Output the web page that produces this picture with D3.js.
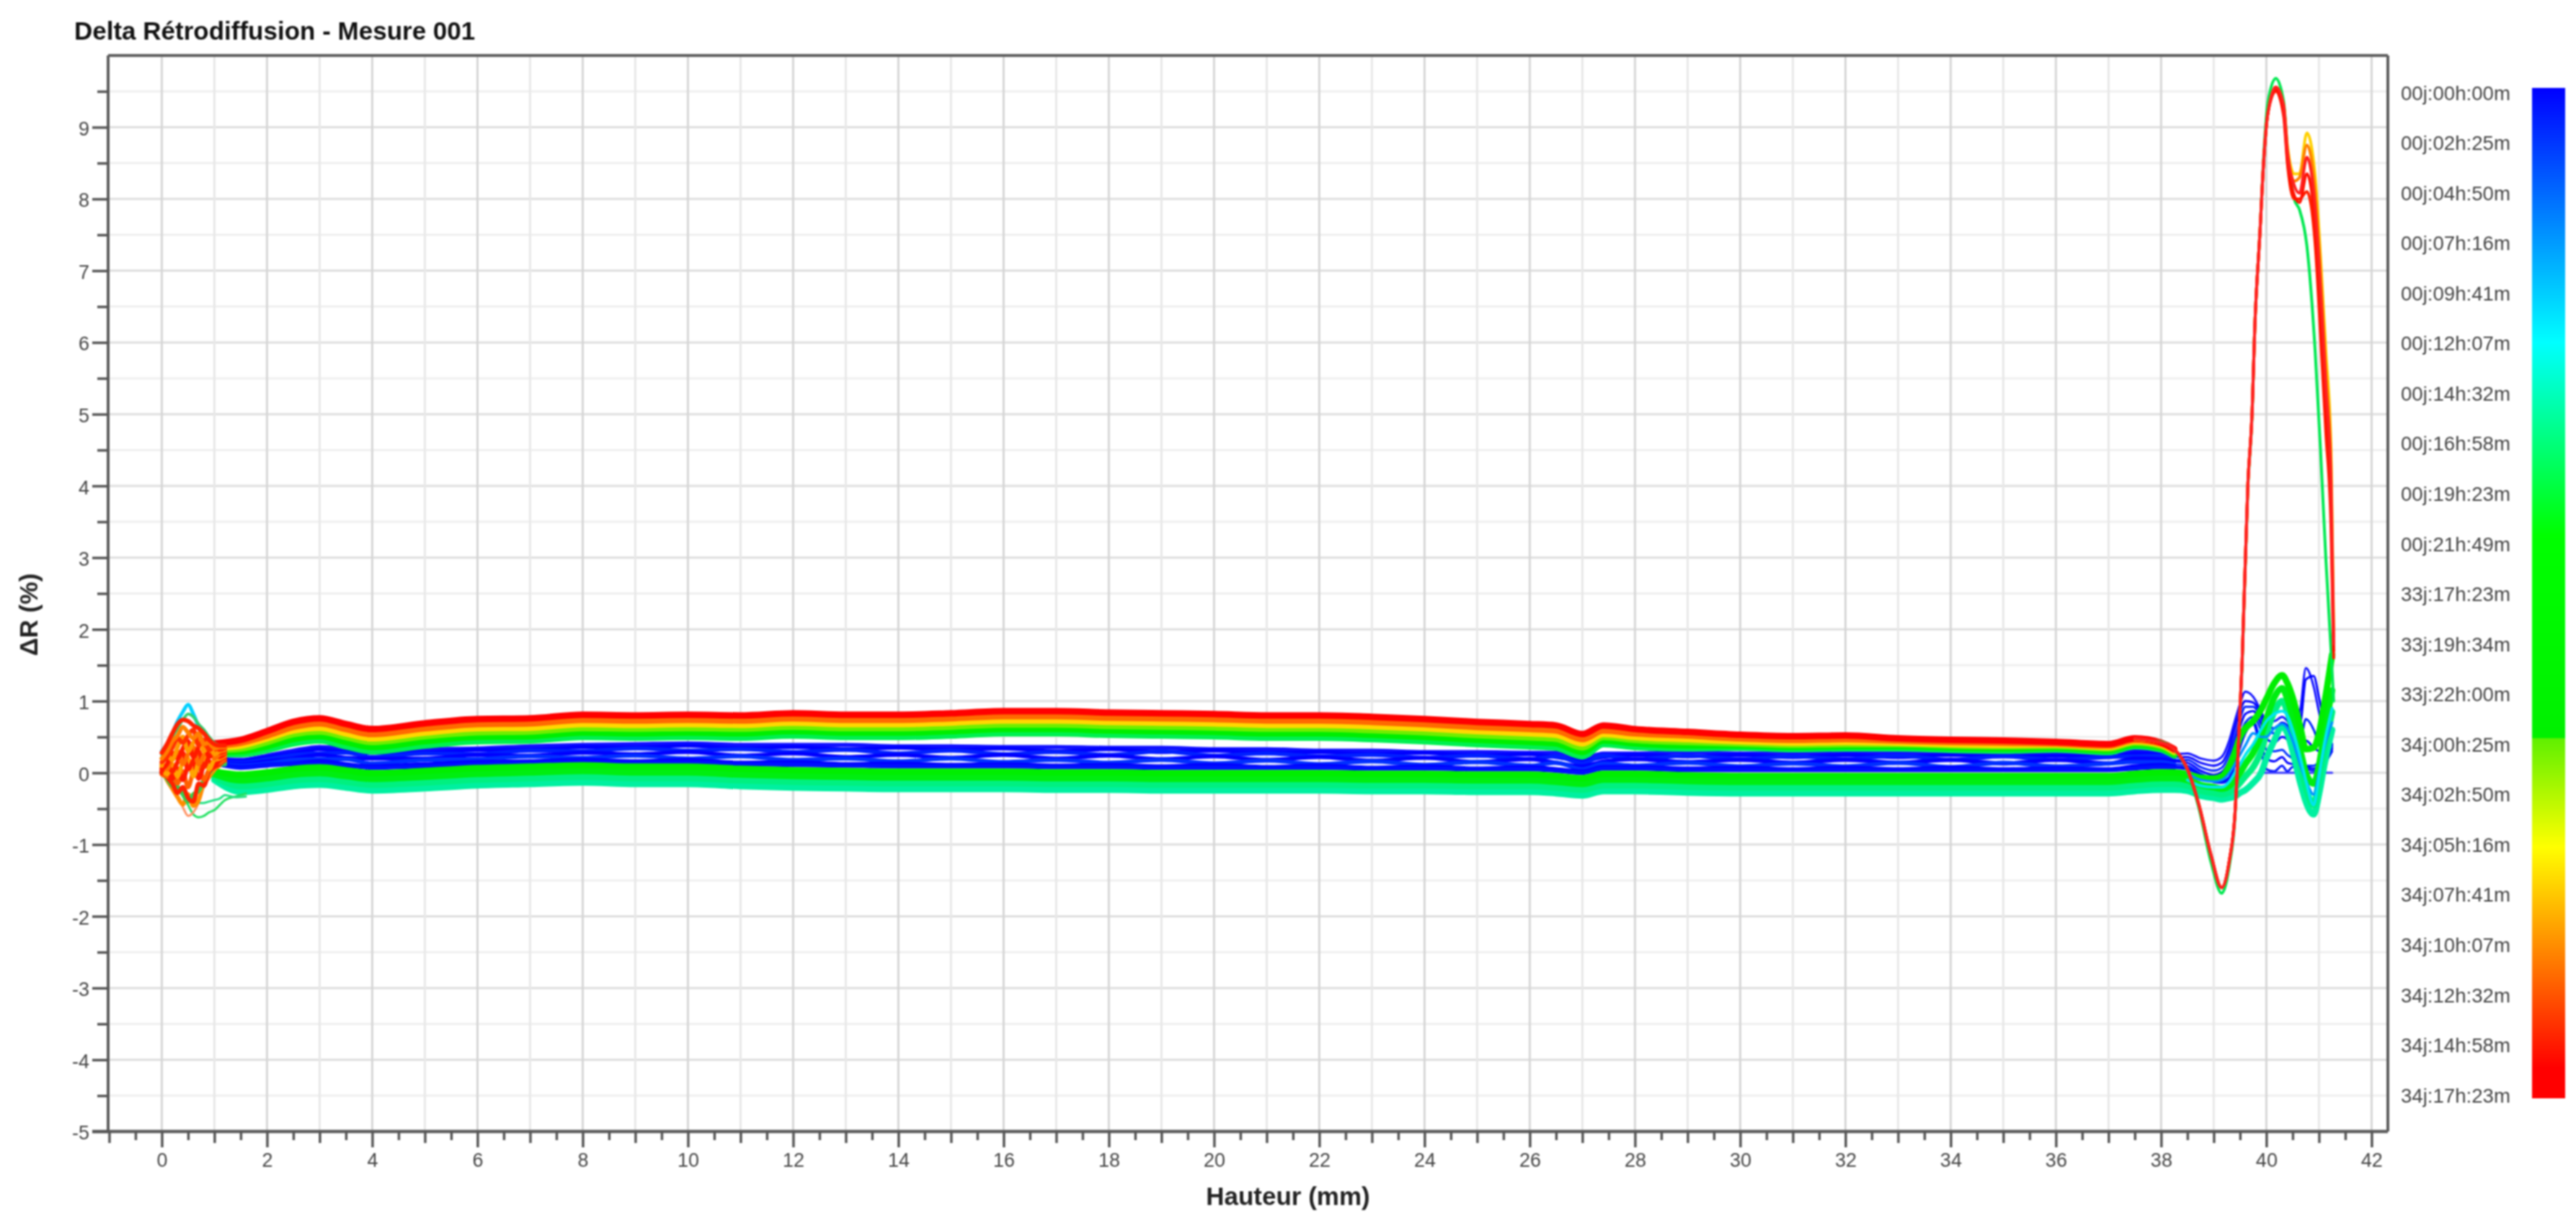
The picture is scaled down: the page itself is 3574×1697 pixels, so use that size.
<!DOCTYPE html>
<html><head><meta charset="utf-8">
<script src="https://d3js.org/d3.v7.min.js"></script>
<style>html,body{margin:0;padding:0;background:#fff}svg{display:block;filter:blur(1px)}text{font-family:"Liberation Sans",Arial,sans-serif}</style>
</head><body><div id="c"></div>
<script>
const chartTitle="Delta Rétrodiffusion - Mesure 001", xTitle="Hauteur (mm)", yTitle="ΔR (%)";
const timeLabels=["00j:00h:00m","00j:02h:25m","00j:04h:50m","00j:07h:16m","00j:09h:41m","00j:12h:07m","00j:14h:32m","00j:16h:58m","00j:19h:23m","00j:21h:49m","33j:17h:23m","33j:19h:34m","33j:22h:00m","34j:00h:25m","34j:02h:50m","34j:05h:16m","34j:07h:41m","34j:10h:07m","34j:12h:32m","34j:14h:58m","34j:17h:23m"];
const xMajor=[0,2,4,6,8,10,12,14,16,18,20,22,24,26,28,30,32,34,36,38,40,42];
const yMajor=[-5,-4,-3,-2,-1,0,1,2,3,4,5,6,7,8,9];

const heights=[1,1.5,2,2.5,3,3.5,4,5,6,7,8,9,10,11,12,13,14,15,16,17,18,19,20,21,22,23,24,25,26,26.5,27,27.4,28,29,30,31,32,33,34,35,36,37,37.5,38,38.25,38.5,38.75,39,39.15,39.3,39.4,39.5,39.6,39.75,39.9,40,40.15,40.3,40.4,40.5,40.65,40.75,40.9,41,41.1,41.25];

// late curves, upper part of the band
const lateRed=[.41,.46,.58,.71,.76,.68,.61,.69,.75,.76,.81,.80,.81,.80,.83,.81,.81,.83,.86,.86,.84,.83,.82,.80,.80,.78,.75,.71,.68,.66,.54,.66,.61,.57,.53,.51,.52,.48,.46,.45,.43,.40,.48,.42,.33];
const lateOrange=[.38,.42,.52,.64,.69,.61,.54,.62,.68,.69,.74,.73,.74,.73,.76,.74,.74,.76,.79,.79,.77,.76,.75,.73,.73,.71,.68,.64,.61,.59,.47,.59,.55,.52,.48,.46,.47,.45,.43,.42,.41,.38,.46,.41,.32];
const lateYellow=[.35,.38,.48,.59,.63,.55,.48,.56,.62,.63,.68,.67,.68,.67,.70,.68,.68,.70,.73,.73,.71,.70,.69,.67,.67,.65,.62,.58,.55,.53,.41,.54,.50,.47,.44,.42,.43,.42,.40,.39,.395,.36,.44,.395,.30];
const lateLime=[.32,.34,.43,.54,.575,.50,.43,.51,.565,.575,.625,.615,.625,.615,.645,.625,.625,.645,.675,.675,.655,.645,.635,.615,.615,.595,.565,.525,.495,.475,.355,.50,.46,.43,.41,.39,.40,.40,.38,.37,.375,.34,.42,.375,.28];
const lateGreen=[.29,.30,.37,.47,.51,.43,.36,.44,.50,.51,.56,.55,.56,.55,.58,.56,.56,.58,.61,.61,.59,.58,.57,.55,.55,.53,.50,.46,.43,.41,.29,.45,.41,.38,.38,.36,.37,.37,.35,.34,.35,.315,.395,.35,.26];
const lateMint=[.26,.26,.32,.41,.45,.37,.30,.38,.44,.45,.50,.49,.50,.49,.52,.50,.50,.52,.55,.55,.53,.52,.51,.49,.49,.47,.44,.40,.37,.35,.23,.40,.36,.34,.35,.33,.34,.34,.32,.31,.325,.29,.37,.325,.24];

// early curves, blue
const early1=[.20,.18,.24,.31,.36,.34,.30,.33,.34,.37,.39,.40,.41,.39,.39,.39,.37,.37,.36,.36,.35,.35,.33,.33,.31,.31,.29,.29,.28,.28,.20,.27,.27,.29,.27,.28,.28,.28,.27,.28,.27,.28,.30,.30,.26,.27,.20,.17,.22,.46,.72,.96,1.13,1.06,.86,.72,.72,.78,.72,.62,.90,1.46,1.2,.85,.55,.35];
const early2=[.19,.16,.22,.27,.33,.29,.28,.28,.32,.32,.36,.35,.38,.34,.36,.33,.35,.32,.34,.30,.33,.29,.31,.28,.29,.26,.28,.24,.26,.22,.17,.22,.25,.23,.25,.22,.25,.22,.25,.23,.24,.22,.27,.26,.22,.22,.14,.10,.14,.36,.62,.86,1.0,.98,.82,.66,.62,.7,.66,.55,.7,1.3,1.35,1.05,.7,.4];
const early3=[.17,.14,.19,.25,.27,.28,.22,.27,.26,.31,.30,.34,.31,.33,.29,.32,.27,.31,.26,.29,.25,.30,.24,.27,.23,.25,.21,.24,.19,.23,.13,.24,.19,.24,.19,.23,.19,.24,.18,.23,.18,.22,.23,.24,.18,.18,.08,.03,.07,.27,.50,.75,.92,.92,.76,.58,.55,.62,.58,.44,.45,.75,.6,.4,.3,.4];
const early4=[.16,.12,.16,.20,.25,.21,.20,.20,.25,.24,.28,.26,.29,.24,.27,.22,.25,.21,.25,.20,.24,.19,.23,.18,.22,.17,.21,.15,.19,.14,.09,.16,.19,.15,.18,.14,.18,.14,.18,.13,.18,.13,.20,.19,.16,.14,.03,-.03,.01,.18,.40,.64,.82,.86,.68,.48,.42,.5,.46,.34,.25,.45,.35,.3,.28,.38];
const early5=[.15,.10,.13,.18,.19,.19,.13,.18,.19,.23,.21,.24,.20,.23,.18,.20,.16,.20,.15,.18,.14,.18,.13,.17,.12,.16,.11,.15,.10,.14,.05,.13,.10,.14,.09,.13,.09,.14,.08,.14,.09,.13,.15,.15,.12,.1,-.01,-.08,-.05,.08,.30,.52,.70,.78,.58,.32,.3,.32,.25,.2,.12,.1,.1,.15,.22,.36];
const early6=[.14,.08,.11,.13,.16,.12,.09,.12,.15,.16,.18,.16,.18,.14,.15,.12,.13,.11,.12,.10,.11,.09,.11,.08,.10,.07,.09,.06,.08,.05,.02,.08,.08,.06,.07,.05,.07,.05,.07,.05,.06,.05,.09,.11,.09,.07,-.03,-.12,-.12,-.06,.15,.40,.60,.72,.40,.2,.16,.22,.14,.12,.06,.08,.06,.1,.18,.33];
const early7=[.13,.07,.10,.12,.12,.10,.07,.09,.12,.14,.15,.14,.14,.12,.11,.10,.09,.09,.09,.08,.08,.07,.07,.07,.07,.06,.06,.05,.05,.03,.00,.06,.06,.04,.04,.04,.04,.04,.04,.04,.04,.04,.06,.08,.07,.05,-.04,-.13,-.14,-.09,.1,.35,.55,.68,.3,.05,.02,.1,.02,.08,.05,.05,.03,.05,.12,.3];

// middle curves, lower part of the band
const midGreen=[.02,-.025,.005,.055,.075,.035,-.005,.025,.065,.085,.105,.085,.085,.055,.035,.025,.015,.015,.015,.005,.005,-.005,-.005,-.005,-.005,-.015,-.015,-.025,-.025,-.045,-.075,-.015,-.015,-.035,-.045,-.045,-.045,-.045,-.045,-.045,-.045,-.045,-.015,.005,.005,-.02,-.07,-.08,-.05,.1,.28,.5,.62,.72,.88,1.03,1.25,1.36,1.25,1.05,.62,.33,.35,.55,.95,1.65];
const midGreen2=[-.02,-.105,-.075,-.025,-.005,-.045,-.085,-.055,-.015,.005,.025,.005,.005,-.025,-.045,-.055,-.065,-.065,-.065,-.075,-.075,-.085,-.085,-.085,-.085,-.095,-.095,-.105,-.105,-.125,-.155,-.095,-.095,-.115,-.125,-.125,-.125,-.125,-.125,-.125,-.125,-.125,-.095,-.075,-.075,-.1,-.17,-.2,-.22,-.18,-.1,.0,.12,.28,.52,.75,1.05,1.18,1.03,.78,.3,.0,-.15,.1,.55,1.15];
const midMint=[-.06,-.185,-.155,-.105,-.085,-.125,-.165,-.135,-.095,-.075,-.055,-.075,-.075,-.105,-.125,-.135,-.145,-.145,-.145,-.155,-.155,-.165,-.165,-.165,-.165,-.175,-.175,-.185,-.185,-.205,-.235,-.175,-.175,-.195,-.205,-.205,-.205,-.205,-.205,-.205,-.205,-.205,-.175,-.155,-.155,-.18,-.25,-.28,-.30,-.27,-.22,-.14,-.05,.08,.3,.55,.85,1.0,.85,.6,.1,-.2,-.45,-.1,.3,.85];
const midTeal=[-.1,-.265,-.235,-.185,-.165,-.205,-.245,-.215,-.175,-.155,-.135,-.155,-.155,-.185,-.205,-.215,-.225,-.225,-.225,-.235,-.235,-.245,-.245,-.245,-.245,-.255,-.255,-.265,-.265,-.285,-.315,-.255,-.255,-.275,-.285,-.285,-.285,-.285,-.285,-.285,-.285,-.285,-.255,-.235,-.235,-.25,-.32,-.35,-.37,-.35,-.33,-.28,-.24,-.14,.0,.2,.45,.65,.55,.3,-.15,-.4,-.58,-.3,.1,.6];

const tailHeights=[38.5,38.75,39,39.15,39.3,39.4,39.5,39.6,39.75,39.9,40,40.15,40.3,40.4,40.5,40.65,40.75,40.9,41,41.1,41.25];
const tailCyan=[-.1,-.18,-.2,-.2,-.12,.0,.12,.25,.4,.6,.72,.82,.86,.8,.6,.2,-.1,-.45,-.05,.4,.9];
const tailSky=[.0,-.1,-.12,-.1,0,.12,.25,.38,.55,.5,.5,.62,.68,.62,.45,.1,-.1,-.3,0,.35,.7];
const refHeights=[39.9,41.25];
const refCurve=[0,0];

// the two end features of the last curves
const spikeHeights=[37.5,38,38.25,38.5,38.72,38.95,39.15,39.3,39.4,39.45,39.54,39.65,39.73,39.78,39.88,39.95,40.03,40.18,40.33,40.4,40.53,40.63,40.77,40.93,41.03,41.13,41.23,41.28];
const spikeGreen=[.47,.43,.32,.03,-.5,-1.25,-1.68,-1.28,-.66,.03,1.5,4.0,5.0,6.2,7.55,8.6,9.35,9.68,9.35,8.7,8.0,7.85,7.35,5.85,4.5,3.0,1.7,1.0];
const spikeYellow=[.47,.42,.33,.05,-.45,-1.15,-1.6,-1.21,-.61,.06,1.56,4.04,5.03,6.2,7.55,8.53,9.2,9.56,9.3,8.75,8.35,8.35,8.92,8.3,7.2,5.9,4.5,2.0];
const spikeOrange=[.47,.42,.33,.05,-.45,-1.15,-1.6,-1.21,-.61,.06,1.56,4.04,5.03,6.2,7.55,8.53,9.2,9.56,9.3,8.7,8.25,8.3,8.75,8.1,7.0,5.65,4.3,1.9];
const spikeRed=[.48,.42,.33,.05,-.45,-1.15,-1.6,-1.21,-.61,.06,1.56,4.04,5.03,6.2,7.55,8.53,9.2,9.56,9.3,8.67,8.19,8.08,8.58,7.86,6.73,5.39,4.04,1.8];
const spikeRed2=[.48,.42,.33,.05,-.45,-1.15,-1.6,-1.21,-.61,.06,1.56,4.04,5.03,6.2,7.55,8.53,9.2,9.52,9.2,8.55,8.05,7.95,8.35,7.6,6.4,5.05,3.7,1.7];
const spikeRed3=[.48,.42,.33,.05,-.45,-1.15,-1.6,-1.21,-.61,.06,1.56,4.04,5.03,6.2,7.55,8.53,9.2,9.5,9.15,8.5,8.0,8.0,8.1,7.35,6.1,4.75,3.4,1.6];

// the tangle near the bottom of the sample
const burstHeights=[0,.1,.2,.3,.4,.5,.6,.7,.8,.9,1,1.1,1.2,1.4,1.6];
const burstCyan=[.3,.4,.55,.72,.85,.95,.82,.65,.55,.45,.38,.35,.3];
const burstLeaf=[.25,.38,.5,.62,.74,.82,.78,.68,.6,.5,.42,.38,.34];
const burst1=[.28,.40,.55,.68,.74,.72,.66,.62,.55,.46,.40,.38,.38];
const burst2=[.20,.30,.44,.52,.64,.56,.48,.55,.40,.42,.34,.36,.36];
const burst3=[.15,.22,.35,.48,.42,.52,.60,.38,.46,.32,.36,.32,.34];
const burst4=[.10,.25,.18,.36,.50,.30,.42,.50,.30,.38,.26,.30,.32];
const burst5=[.05,.12,.28,.20,.34,.44,.22,.36,.42,.22,.30,.28,.30];
const burst6=[.12,.05,.20,.30,.12,.26,.36,.12,.24,.34,.2,.26,.28];
const burst7=[.02,.10,.02,.15,.28,.05,.18,.30,.08,.22,.24,.22,.26];
const burst8=[.08,-.02,.12,-.05,.15,.2,-.05,.15,.25,.05,.18,.2,.24];
const burst9=[.00,.04,-.08,.06,-.1,.1,.14,-.08,.1,.16,.1,.18,.22];
const burst10=[-.02,-.05,-.02,-.15,.02,-.2,.02,.1,-.1,.05,.14,.14,.2];
const burst11=[.0,-.08,-.18,-.2,-.3,-.4,-.3,-.25,-.1,.0,.1,.12,.12];
const burst12=[.02,-.06,-.15,-.28,-.2,-.35,-.4,-.15,-.18,.02,.08,.12,.18];
const burst13=[.06,-.1,-.22,-.34,-.44,-.3,-.46,-.38,-.14,-.05,.05,.1,.15];
const burstPale=[-.02,-.1,-.2,-.33,-.48,-.6,-.55,-.42,-.2,-.08,.02,.1,.14];
const burstLow=[0,-.05,-.12,-.22,-.32,-.45,-.58,-.62,-.6,-.55,-.52,-.45,-.38,-.33,-.29];
const burstLow2=[0,-.05,-.1,-.18,-.25,-.33,-.4,-.42,-.42,-.4,-.38,-.36,-.31,-.34,-.33];

const W=3574,H=1697;
const x=d3.scaleLinear().domain([-1.02,42.31]).range([150,3313]);
const y=d3.scaleLinear().domain([-5,10]).range([1570,77]);
const svg=d3.select("#c").append("svg").attr("width",W).attr("height",H);
svg.append("rect").attr("width",W).attr("height",H).attr("fill","#fff");

const xMinorGrid=d3.range(-1,43,2), yMinorGrid=d3.range(-4.5,10,1);
const xHalf=d3.range(-.5,42.5,1);
const grid=svg.append("g");
grid.selectAll(".ym").data(yMinorGrid).join("line").attr("x1",x.range()[0]).attr("x2",x.range()[1]).attr("y1",d=>y(d)).attr("y2",d=>y(d)).attr("stroke","#efefef").attr("stroke-width",3);
grid.selectAll(".yM").data(yMajor.slice(1)).join("line").attr("x1",x.range()[0]).attr("x2",x.range()[1]).attr("y1",d=>y(d)).attr("y2",d=>y(d)).attr("stroke","#dedede").attr("stroke-width",3);
grid.selectAll(".xm").data(xMinorGrid.slice(1)).join("line").attr("y1",y.range()[0]).attr("y2",y.range()[1]).attr("x1",d=>x(d)).attr("x2",d=>x(d)).attr("stroke","#e8e8e8").attr("stroke-width",3);
grid.selectAll(".xM").data(xMajor).join("line").attr("y1",y.range()[0]).attr("y2",y.range()[1]).attr("x1",d=>x(d)).attr("x2",d=>x(d)).attr("stroke","#d6d6d6").attr("stroke-width",3);

const drawSeries=(xs,vals,color,width,opacity)=>{
  const pts=vals.map((v,i)=>[xs[i],v]);
  svg.append("path").attr("d",d3.line().x(d=>x(d[0])).y(d=>y(d[1])).curve(d3.curveMonotoneX)(pts))
    .attr("fill","none").attr("stroke",color).attr("stroke-width",width).attr("stroke-opacity",opacity||1).attr("stroke-linejoin","round").attr("stroke-linecap","round");
};
const blueThin=3, blueBody=5.6, bodyCount=45, bandWidth=9, burstWidth=6, spikeWidth=4;
[[early1,"#1010ff"],[early2,"#0000ff"],[early3,"#0020ff"],[early4,"#0000ff"],[early5,"#0030ff"],[early6,"#0000ff"],[early7,"#0010ff"]].forEach(s=>{
  drawSeries(heights,s[0],s[1],blueThin);
  drawSeries(heights,s[0].slice(0,bodyCount),s[1],blueBody);
});
drawSeries(refHeights,refCurve,"#3a3aff",3);
[[midTeal,"#00f0a0"],[midMint,"#00f080"],[midGreen2,"#00ee10"],[midGreen,"#00ee00"]].forEach(s=>drawSeries(heights,s[0],s[1],bandWidth));
drawSeries(tailHeights,tailSky,"#0090ff",3.5);
drawSeries(tailHeights,tailCyan,"#00e4f0",4);
[[lateMint,"#00f050"],[lateGreen,"#00ee00"],[lateLime,"#70ee00"],[lateYellow,"#ffd800"],[lateOrange,"#ff6a00"],[lateRed,"#ff0000"]].forEach(s=>drawSeries(heights,s[0],s[1],bandWidth));
drawSeries(burstHeights,burstLow,"#20e060",3);
drawSeries(burstHeights,burstLow2,"#20e080",3);
drawSeries(burstHeights,burstCyan,"#00d0ff",5);
drawSeries(burstHeights,burstLeaf,"#30d070",4);
drawSeries(burstHeights,burstPale,"#ff9060",3);
[[burst13,"#ff8c00"],[burst11,"#30d050"],[burst12,"#ff2000"],[burst10,"#ff6000"],[burst9,"#ff1a00"],[burst8,"#ffa500"],[burst7,"#ff2000"],[burst6,"#ff7000"],[burst5,"#ff1a00"],[burst4,"#ff9a00"],[burst3,"#ff3000"],[burst2,"#ff8000"],[burst1,"#ff2000"]].forEach(s=>drawSeries(burstHeights,s[0],s[1],burstWidth));
drawSeries(spikeHeights,spikeGreen,"#00e850",spikeWidth);
drawSeries(spikeHeights,spikeYellow,"#ffd000",spikeWidth);
drawSeries(spikeHeights,spikeOrange,"#ff8000",spikeWidth);
drawSeries(spikeHeights,spikeRed3,"#ff2000",spikeWidth);
drawSeries(spikeHeights,spikeRed2,"#ff1000",spikeWidth);
drawSeries(spikeHeights,spikeRed,"#ff2020",spikeWidth);

// frame
const frame=svg.append("g").attr("stroke","#5c5c5c").attr("fill","none");
frame.append("line").attr("x1",150).attr("x2",3313).attr("y1",77).attr("y2",77).attr("stroke-width",4);
frame.append("line").attr("x1",3313).attr("x2",3313).attr("y1",77).attr("y2",1570).attr("stroke-width",4);
frame.append("line").attr("x1",150).attr("x2",150).attr("y1",77).attr("y2",1570).attr("stroke-width",4);
frame.append("line").attr("x1",128).attr("x2",3313).attr("y1",1570).attr("y2",1570).attr("stroke-width",4.5);

// axes
const styleAxis=g=>{g.select(".domain").remove();g.selectAll("line").attr("stroke","#555").attr("stroke-width",3.5);g.selectAll("text").attr("fill","#444").style("font-size","27px");};
svg.append("g").attr("transform","translate(150,0)").call(d3.axisLeft(y).tickValues(yMinorGrid).tickSize(15).tickFormat("")).call(styleAxis);
svg.append("g").attr("transform","translate(150,0)").call(d3.axisLeft(y).tickValues(yMajor).tickSize(22).tickPadding(4).tickFormat(d=>String(d))).call(styleAxis).selectAll("text").attr("dy","0.4em");
svg.append("g").attr("transform","translate(0,1570)").call(d3.axisBottom(x).tickValues(xHalf).tickSize(12).tickFormat("")).call(styleAxis);
svg.append("g").attr("transform","translate(0,1570)").call(d3.axisBottom(x).tickValues(xMinorGrid).tickSize(16).tickFormat("")).call(styleAxis);
svg.append("g").attr("transform","translate(0,1570)").call(d3.axisBottom(x).tickValues(xMajor).tickSize(22).tickPadding(8).tickFormat(d=>String(d))).call(styleAxis);

svg.append("text").attr("x",103).attr("y",55).attr("font-weight","bold").attr("font-size",35).attr("fill","#111").text(chartTitle);
svg.append("text").attr("x",1787).attr("y",1672).attr("text-anchor","middle").attr("font-weight","bold").attr("font-size",35).attr("fill","#222").text(xTitle);
svg.append("text").attr("transform","translate(52,853) rotate(-90)").attr("text-anchor","middle").attr("font-weight","bold").attr("font-size",35).attr("fill","#222").text(yTitle);

// legend
const defs=svg.append("defs");
const grad=defs.append("linearGradient").attr("id","lg").attr("x1",0).attr("x2",0).attr("y1",0).attr("y2",1);
[[0,"#0000ff"],[.252,"#00ffff"],[.443,"#00ff00"],[.643,"#00f000"],[.644,"#60f000"],[.751,"#ffff00"],[.97,"#ff0000"],[1,"#ff0000"]].forEach(s=>grad.append("stop").attr("offset",s[0]).attr("stop-color",s[1]));
svg.append("rect").attr("x",3513).attr("y",122).attr("width",46).attr("height",1402).attr("fill","url(#lg)");
const ly=d3.scalePoint().domain(timeLabels).range([128.6,1519.6]);
svg.append("g").selectAll("text").data(timeLabels).join("text").attr("x",3331).attr("y",d=>ly(d)+10).attr("font-size",27.6).attr("fill","#444").text(d=>d);
</script></body></html>
